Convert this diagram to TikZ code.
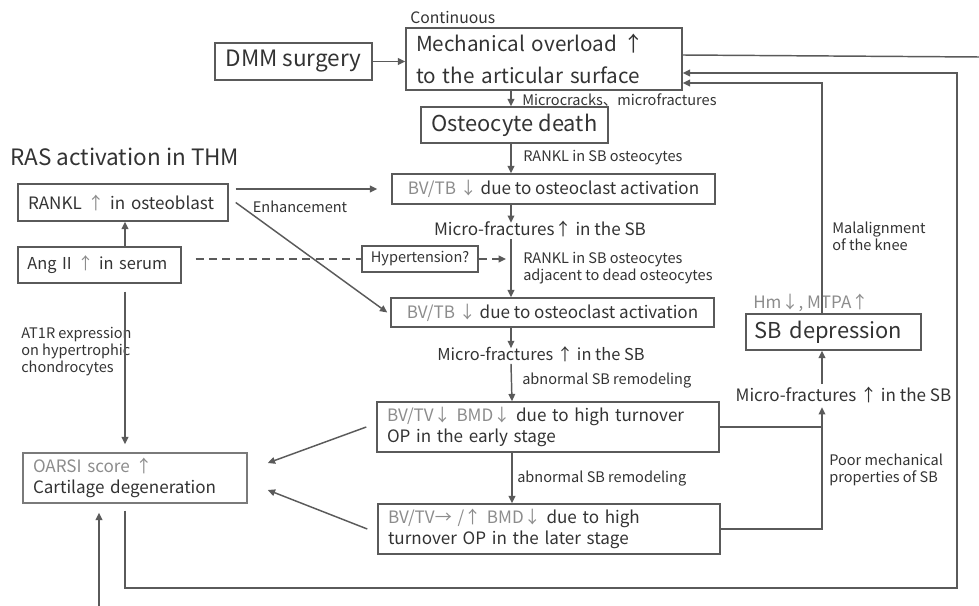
\documentclass[tikz,border=0pt]{standalone}
\usepackage{fontspec}
\setmainfont{Noto Sans CJK JP}
\usetikzlibrary{arrows.meta}
\definecolor{lnc}{HTML}{5A5A5A}
\definecolor{tx}{HTML}{333333}
\definecolor{gr}{HTML}{8C8C8C}
\definecolor{bxg}{HTML}{7A7A7A}
\begin{document}
\begin{tikzpicture}[x=0.75pt,y=-0.75pt,
  box/.style={draw=lnc, line width=1.1pt, inner sep=0pt, text=tx},
  lbl/.style={inner sep=0pt, text=tx},
  big/.style={font=\fontsize{16.4}{23.8}\selectfont},
  bigw/.style={font=\fontsize{16.9}{23.8}\selectfont},
  bign/.style={font=\fontsize{15.5}{23.8}\selectfont},
  med/.style={font=\fontsize{12.8}{15.5}\selectfont},
  medn/.style={font=\fontsize{12.3}{15.5}\selectfont},
  sml/.style={font=\fontsize{10.9}{12.9}\selectfont},
  con/.style={draw=lnc, line width=1.1pt},
  arr/.style={con, -{Triangle[length=5.5pt,width=5pt]}},
  darr/.style={arr, dash pattern=on 6pt off 4pt}]
\useasboundingbox (0,0) rectangle (979,606);
% boxes
\node[box, bign, minimum width=207pt, minimum height=46.5pt, text width=192pt, align=left] (mech) at (544,59) {Mechanical overload ↑\\to the articular surface};
\node[box, bigw, minimum width=117.75pt, minimum height=27.75pt] (dmm) at (293.5,61.5) {DMM surgery};
\node[box, big, minimum width=140.25pt, minimum height=27pt] (ost) at (514.5,125) {Osteocyte death};
\node[box, med, minimum width=242.25pt, minimum height=22.5pt] (bv1) at (553.5,189) {\textcolor{gr}{BV/TB ↓} due to osteoclast activation};
\node[box, med, minimum width=242.25pt, minimum height=21.75pt] (bv2) at (552.5,312.5) {\textcolor{gr}{BV/TB ↓} due to osteoclast activation};
\node[box, sml, minimum width=87pt, minimum height=19.5pt] (hyp) at (420,259) {Hypertension?};
\node[box, med, minimum width=256.5pt, minimum height=37.5pt, text width=241.5pt, align=left] (b3) at (548,427) {\textcolor{gr}{BV/TV↓ BMD↓} due to high turnover\\OP in the early stage};
\node[box, med, minimum width=256.5pt, minimum height=37.5pt, text width=241.5pt, align=left] (b4) at (549,529) {\textcolor{gr}{BV/TV→ /↑ BMD↓} due to high\\turnover OP in the later stage};
\node[box, big, minimum width=131.25pt, minimum height=27pt, text width=118pt, align=left] (sb) at (833.5,332) {SB depression};
\node[box, draw=bxg, med, minimum width=168pt, minimum height=37.5pt, text width=153pt, align=left] (oarsi) at (135,478) {\textcolor{gr}{OARSI score ↑}\\Cartilage degeneration};
\node[box, medn, minimum width=122.25pt, minimum height=27pt, text width=108pt, align=left] (ang) at (99.5,265) {Ang II \textcolor{gr}{↑} in serum};
\node[box, med, minimum width=157.5pt, minimum height=27.75pt, text width=142.5pt, align=left] (rankl) at (123,202.5) {RANKL \textcolor{gr}{↑} in osteoblast};
% labels
\node[lbl, bigw, anchor=west] (ras) at (10,157) {RAS activation in THM};
\node[lbl, font=\fontsize{11.8}{14}\selectfont, anchor=west] (cont) at (410,18) {Continuous};
\node[lbl, sml, anchor=west] (l1) at (522,100) {Microcracks、microfractures};
\node[lbl, sml, anchor=west] (l2) at (523,158) {RANKL in SB osteocytes};
\node[lbl, med] (mf1) at (540,229) {Micro-fractures↑ in the SB};
\node[lbl, sml, anchor=west, align=left] (l3) at (523,268) {RANKL in SB osteocytes\\adjacent to dead osteocytes};
\node[lbl, medn] (mf2) at (541,354) {Micro-fractures ↑ in the SB};
\node[lbl, sml, anchor=west] (l4) at (522,381) {abnormal SB remodeling};
\node[lbl, sml, anchor=west] (l5) at (517,479) {abnormal SB remodeling};
\node[lbl, med] (mf3) at (843.5,395) {Micro-fractures ↑ in the SB};
\node[lbl, med, text=gr, anchor=west] (hm) at (753,303) {Hm↓, MTPA↑};
\node[lbl, sml, anchor=west, align=left] (l6) at (832,236) {Malalignment\\of the knee};
\node[lbl, sml, anchor=west, align=left] (l7) at (829,470) {Poor mechanical\\properties of SB};
\node[lbl, sml] (enh) at (300,207) {Enhancement};
\node[lbl, sml, anchor=north west, align=left] (l8) at (21,327) {AT1R expression\\on hypertrophic\\chondrocytes};
% helper coordinates
\coordinate (sp) at (511,0);
\coordinate (sp2) at (512,0);
\coordinate (lsp) at (125,0);
\coordinate (rsp) at (822,0);
\coordinate (loopbr) at (957,588);
\coordinate (edge) at (979,57);
\coordinate (botin) at (99,606);
% connectors
\draw[arr] (dmm.east) -- (dmm.east -| mech.west);
\draw[arr] (sp |- mech.south) -- (sp |- ost.north);
\draw[arr] (sp |- ost.south) -- (sp |- bv1.north);
\draw[arr] (sp |- bv1.south) -- ([yshift=-1.5pt]sp |- mf1.north);
\draw[arr] ([yshift=-1.5pt]sp |- mf1.south) -- (sp |- bv2.north);
\draw[arr] (sp |- bv2.south) -- ([yshift=-1.5pt]sp |- mf2.north);
\draw[arr] ([yshift=-1.5pt]sp |- mf2.south) -- (sp2 |- b3.north);
\draw[arr] (sp2 |- b3.south) -- (sp2 |- b4.north);
\draw[darr] (hyp.east) -- ([xshift=-3.75pt]sp |- hyp.east);
\draw[con, dash pattern=on 6pt off 4pt] ([xshift=10.5pt]ang.east |- hyp.west) -- (hyp.west);
\draw[arr] ([xshift=5.25pt]rankl.east |- bv1.west) -- ([xshift=-10.5pt]bv1.west);
\draw[arr] ([xshift=5.25pt]rankl.east) -- ([xshift=-2.25pt]bv2.west);
\draw[arr] (lsp |- ang.north) -- (lsp |- rankl.south);
\draw[arr] ([yshift=-6pt]lsp |- ang.south) -- ([yshift=6pt]lsp |- oarsi.north);
\draw[arr] ([xshift=-7.5pt]b3.west) -- ([xshift=15pt,yshift=11.25pt]oarsi.east);
\draw[arr] ([xshift=-7.5pt]b4.west) -- ([xshift=15pt,yshift=-9pt]oarsi.east);
\draw[con] (b3.east) -- (rsp |- b3.east);
\draw[arr] (b4.east) -- (rsp |- b4.east) -- ([yshift=-3pt]rsp |- mf3.south);
\draw[arr] ([yshift=2pt]rsp |- mf3.north) -- (rsp |- sb.south);
\draw[arr] (rsp |- sb.north) |- ([yshift=-18pt]mech.east);
\draw[arr] ([yshift=-5.25pt]lsp |- oarsi.south) |- (loopbr) |- ([yshift=-10.5pt]mech.east);
\draw[con] ([yshift=3pt]mech.east) -- (edge);
\draw[arr] (botin) -- ([yshift=-6.75pt]botin |- oarsi.south);
\end{tikzpicture}
\end{document}
